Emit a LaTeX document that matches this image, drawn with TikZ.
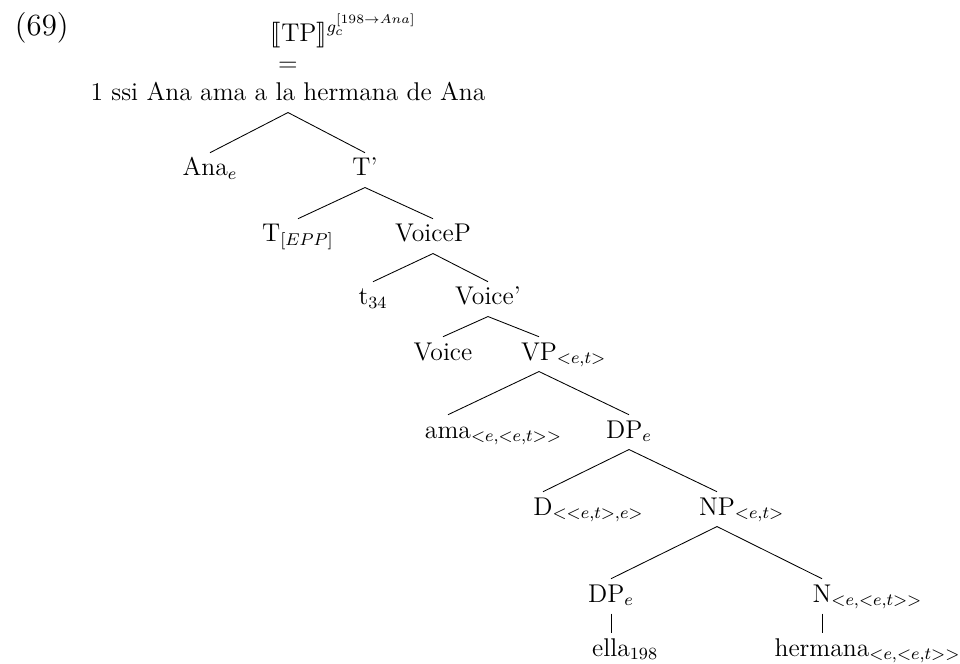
\documentclass[12pt,tikz,border=0pt]{standalone}
\usepackage{stmaryrd}
\newcommand{\rsub}[1]{\rlap{$_{#1}$}}
\begin{document}
\begin{tikzpicture}[x=0.468pt,y=-0.468pt,
  cat/.style={inner sep=0pt, inner ysep=2.2pt, text height=8.5pt, text depth=3pt, anchor=base}]
\useasboundingbox (0,0) rectangle (960,664);
\node[anchor=base west, font=\large] (num) at (6,36) {(69)};
% denotation on top
\node[anchor=base west] (den) at (262,42) {$\llbracket$TP$\rrbracket^{g_c^{[198\rightarrow Ana]}}$};
\node[anchor=base] (eq) at (288,72) {$=$};
\node[cat] (tp) at (288,101) {1 ssi Ana ama a la hermana de Ana};
% tree
\node[cat] (ana) at (210,176) {Ana$_e$};
\node[cat] (tbar) at (365,176) {T'};
\node[cat] (t) at (298,242) {T$_{[EPP]}$};
\node[cat] (voicep) at (433,242) {VoiceP};
\node[cat] (trace) at (373,305) {t$_{34}$};
\node[cat] (voicebar) at (488,305) {Voice'};
\node[cat] (voice) at (443,360) {Voice};
\node[cat] (vp) at (539,360) {VP\rsub{<e,t>}};
\node[cat] (ama) at (448,438) {ama\rsub{<e,<e,t>>}};
\node[cat] (dp) at (629,438) {DP$_e$};
\node[cat] (d) at (543,515) {D\rsub{<<e,t>,e>}};
\node[cat] (np) at (717,515) {NP\rsub{<e,t>}};
\node[cat] (dpella) at (611,602) {DP$_e$};
\node[cat] (n) at (822,602) {N\rsub{<e,<e,t>>}};
\node[cat] (ella) at (611,656) {ella\rsub{198}};
\node[cat] (hermana) at (822,656) {hermana\rsub{<e,<e,t>>}};
\draw (tp.south) -- (ana.north);
\draw (tp.south) -- (tbar.north);
\draw (tbar.south) -- (t.north);
\draw (tbar.south) -- (voicep.north);
\draw (voicep.south) -- (trace.north);
\draw (voicep.south) -- (voicebar.north);
\draw (voicebar.south) -- (voice.north);
\draw (voicebar.south) -- (vp.north);
\draw (vp.south) -- (ama.north);
\draw (vp.south) -- (dp.north);
\draw (dp.south) -- (d.north);
\draw (dp.south) -- (np.north);
\draw (np.south) -- (dpella.north);
\draw (np.south) -- (n.north);
\draw (dpella.south) -- (ella.north);
\draw (n.south) -- (hermana.north);
\end{tikzpicture}
\end{document}
